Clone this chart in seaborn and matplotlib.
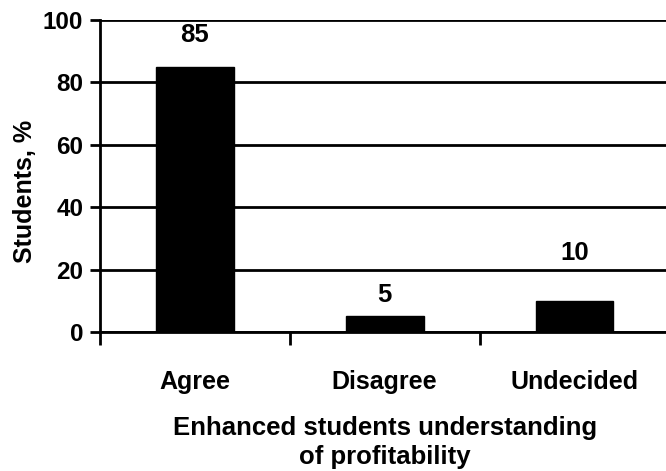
import matplotlib
matplotlib.use("Agg")
import matplotlib.pyplot as plt
import seaborn as sns
import pandas as pd
import numpy as np

categories = ["Agree", "Disagree", "Undecided"]
values = [85, 5, 10]
label_offsets_px = [32, 21, 48]

sns.set_theme(style="white")
plt.rcParams['font.family'] = ['Liberation Sans', 'DejaVu Sans']
plt.rcParams['font.weight'] = 'bold'

df = pd.DataFrame({"cat": categories, "val": values})

fig = plt.figure(figsize=(6.66, 4.71), dpi=100)
ax = fig.add_axes([0.150, 0.295, 0.855, 0.6625])

sns.barplot(data=df, x="cat", y="val", color="black", width=0.41,
            saturation=1, ax=ax, zorder=3)
for p in ax.patches:
    p.set_edgecolor("black")

ax.set_ylim(0, 100)
ax.set_xlim(-0.5, 2.5)
ax.set_yticks([0, 20, 40, 60, 80, 100])
ax.yaxis.grid(True, color="black", linewidth=2, zorder=1)
ax.set_axisbelow(True)

for s in ["top", "right"]:
    ax.spines[s].set_visible(False)
for s in ["left", "bottom"]:
    ax.spines[s].set_color("black")
    ax.spines[s].set_linewidth(2)
    ax.spines[s].set_zorder(4)

# major ticks at category boundaries, labels at centers via minor ticks
ax.set_xticks([-0.5, 0.5, 1.5, 2.5])
ax.set_xticklabels([])
ax.set_xticks([0, 1, 2], minor=True)
ax.set_xticklabels(categories, minor=True)
ax.tick_params(axis="x", which="major", direction="out", length=9, width=2,
               color="black", bottom=True)
ax.tick_params(axis="x", which="minor", length=0, pad=27, labelsize=18,
               labelcolor="black")
ax.tick_params(axis="y", direction="out", length=7, width=2, color="black",
               left=True, pad=5, labelsize=17.5, labelcolor="black")
for t in ax.get_xticklabels(minor=True) + ax.get_yticklabels():
    t.set_fontweight("bold")

ax.set_xlabel("Enhanced students understanding\nof profitability", fontsize=18.5,
              fontweight="bold", color="black", labelpad=16, linespacing=1.3)
ax.set_ylabel("Students, %", fontsize=18, fontweight="bold", color="black",
              labelpad=10)
ax.yaxis.set_label_coords(-0.11, 0.45)

for i, (v, off) in enumerate(zip(values, label_offsets_px)):
    ax.annotate(str(v), xy=(i, v), xytext=(0, off * 0.72), textcoords="offset points",
                ha="center", va="center", fontsize=18.5, fontweight="bold",
                color="black", annotation_clip=False)

fig.savefig("out.png", dpi=100)
